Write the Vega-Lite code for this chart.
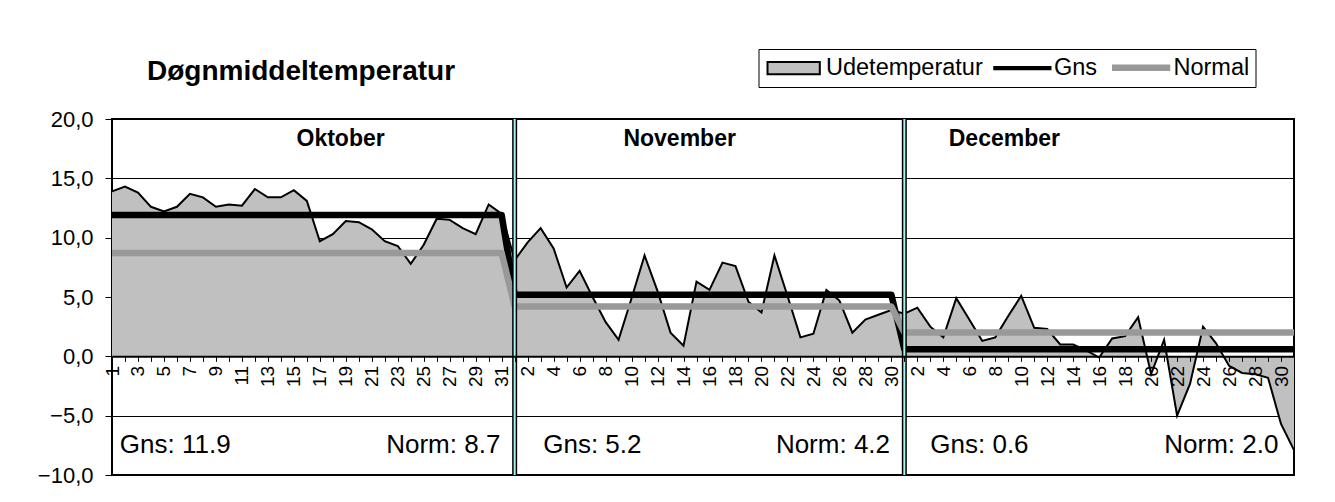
{
  "$schema": "https://vega.github.io/schema/vega-lite/v6.json",
  "width": 1182,
  "height": 356,
  "autosize": {"type": "none"},
  "padding": {"left": 112, "top": 119, "right": 41, "bottom": 27},
  "background": "white",
  "config": {
    "font": "Liberation Sans",
    "view": {"stroke": "black", "strokeWidth": 2},
    "axis": {"labelFont": "Liberation Sans", "labelColor": "black", "tickColor": "black", "domainColor": "black"},
    "legend": {
      "title": null,
      "orient": "none",
      "legendX": 646.5,
      "legendY": -70,
      "direction": "horizontal",
      "strokeColor": "black",
      "fillColor": "white",
      "padding": 6,
      "labelFont": "Liberation Sans",
      "labelFontSize": 23.5,
      "labelColor": "black",
      "labelLimit": 0,
      "labelOffset": 38,
      "columnPadding": 1,
      "symbolSize": 324,
      "symbolOpacity": 1
    }
  },
  "title": {
    "text": "Døgnmiddeltemperatur",
    "anchor": "start",
    "frame": "group",
    "fontSize": 28,
    "fontWeight": "bold",
    "font": "Liberation Sans",
    "color": "black",
    "dx": 35,
    "dy": 37,
    "offset": 0
  },
  "datasets": {
    "dage": [
      {"i":0,"t":13.9,"g":11.9,"n":8.7},{"i":1,"t":14.3,"g":11.9,"n":8.7},{"i":2,"t":13.8,"g":11.9,"n":8.7},{"i":3,"t":12.6,"g":11.9,"n":8.7},{"i":4,"t":12.2,"g":11.9,"n":8.7},{"i":5,"t":12.6,"g":11.9,"n":8.7},{"i":6,"t":13.7,"g":11.9,"n":8.7},{"i":7,"t":13.4,"g":11.9,"n":8.7},{"i":8,"t":12.6,"g":11.9,"n":8.7},{"i":9,"t":12.8,"g":11.9,"n":8.7},
      {"i":10,"t":12.7,"g":11.9,"n":8.7},{"i":11,"t":14.1,"g":11.9,"n":8.7},{"i":12,"t":13.4,"g":11.9,"n":8.7},{"i":13,"t":13.4,"g":11.9,"n":8.7},{"i":14,"t":14.0,"g":11.9,"n":8.7},{"i":15,"t":13.1,"g":11.9,"n":8.7},{"i":16,"t":9.7,"g":11.9,"n":8.7},{"i":17,"t":10.3,"g":11.9,"n":8.7},{"i":18,"t":11.4,"g":11.9,"n":8.7},{"i":19,"t":11.3,"g":11.9,"n":8.7},
      {"i":20,"t":10.7,"g":11.9,"n":8.7},{"i":21,"t":9.7,"g":11.9,"n":8.7},{"i":22,"t":9.3,"g":11.9,"n":8.7},{"i":23,"t":7.8,"g":11.9,"n":8.7},{"i":24,"t":9.4,"g":11.9,"n":8.7},{"i":25,"t":11.6,"g":11.9,"n":8.7},{"i":26,"t":11.5,"g":11.9,"n":8.7},{"i":27,"t":10.8,"g":11.9,"n":8.7},{"i":28,"t":10.3,"g":11.9,"n":8.7},{"i":29,"t":12.8,"g":11.9,"n":8.7},
      {"i":30,"t":12.0,"g":11.9,"n":8.7},
      {"i":31,"t":8.1,"g":5.2,"n":4.2},{"i":32,"t":9.6,"g":5.2,"n":4.2},{"i":33,"t":10.8,"g":5.2,"n":4.2},{"i":34,"t":9.1,"g":5.2,"n":4.2},{"i":35,"t":5.8,"g":5.2,"n":4.2},{"i":36,"t":7.2,"g":5.2,"n":4.2},{"i":37,"t":5.0,"g":5.2,"n":4.2},{"i":38,"t":2.9,"g":5.2,"n":4.2},{"i":39,"t":1.4,"g":5.2,"n":4.2},{"i":40,"t":4.9,"g":5.2,"n":4.2},
      {"i":41,"t":8.5,"g":5.2,"n":4.2},{"i":42,"t":5.5,"g":5.2,"n":4.2},{"i":43,"t":2.0,"g":5.2,"n":4.2},{"i":44,"t":0.9,"g":5.2,"n":4.2},{"i":45,"t":6.3,"g":5.2,"n":4.2},{"i":46,"t":5.6,"g":5.2,"n":4.2},{"i":47,"t":7.9,"g":5.2,"n":4.2},{"i":48,"t":7.6,"g":5.2,"n":4.2},{"i":49,"t":4.6,"g":5.2,"n":4.2},{"i":50,"t":3.7,"g":5.2,"n":4.2},
      {"i":51,"t":8.5,"g":5.2,"n":4.2},{"i":52,"t":5.1,"g":5.2,"n":4.2},{"i":53,"t":1.6,"g":5.2,"n":4.2},{"i":54,"t":1.9,"g":5.2,"n":4.2},{"i":55,"t":5.6,"g":5.2,"n":4.2},{"i":56,"t":4.7,"g":5.2,"n":4.2},{"i":57,"t":2.0,"g":5.2,"n":4.2},{"i":58,"t":3.1,"g":5.2,"n":4.2},{"i":59,"t":3.5,"g":5.2,"n":4.2},{"i":60,"t":3.9,"g":5.2,"n":4.2},
      {"i":61,"t":3.6,"g":0.6,"n":2.0},{"i":62,"t":4.1,"g":0.6,"n":2.0},{"i":63,"t":2.5,"g":0.6,"n":2.0},{"i":64,"t":1.6,"g":0.6,"n":2.0},{"i":65,"t":4.9,"g":0.6,"n":2.0},{"i":66,"t":3.1,"g":0.6,"n":2.0},{"i":67,"t":1.3,"g":0.6,"n":2.0},{"i":68,"t":1.6,"g":0.6,"n":2.0},{"i":69,"t":3.4,"g":0.6,"n":2.0},{"i":70,"t":5.1,"g":0.6,"n":2.0},
      {"i":71,"t":2.4,"g":0.6,"n":2.0},{"i":72,"t":2.3,"g":0.6,"n":2.0},{"i":73,"t":1.0,"g":0.6,"n":2.0},{"i":74,"t":1.0,"g":0.6,"n":2.0},{"i":75,"t":0.5,"g":0.6,"n":2.0},{"i":76,"t":-0.1,"g":0.6,"n":2.0},{"i":77,"t":1.5,"g":0.6,"n":2.0},{"i":78,"t":1.7,"g":0.6,"n":2.0},{"i":79,"t":3.3,"g":0.6,"n":2.0},{"i":80,"t":-1.5,"g":0.6,"n":2.0},
      {"i":81,"t":1.4,"g":0.6,"n":2.0},{"i":82,"t":-5.0,"g":0.6,"n":2.0},{"i":83,"t":-2.3,"g":0.6,"n":2.0},{"i":84,"t":2.5,"g":0.6,"n":2.0},{"i":85,"t":1.1,"g":0.6,"n":2.0},{"i":86,"t":-0.8,"g":0.6,"n":2.0},{"i":87,"t":-1.4,"g":0.6,"n":2.0},{"i":88,"t":-1.5,"g":0.6,"n":2.0},{"i":89,"t":-1.8,"g":0.6,"n":2.0},{"i":90,"t":-5.7,"g":0.6,"n":2.0},
      {"i":91,"t":-7.9,"g":0.6,"n":2.0}
    ],
    "serier": [{"serie":"Udetemperatur"},{"serie":"Gns"},{"serie":"Normal"}],
    "skift": [{"i":31},{"i":61}],
    "navne": [
      {"navn":"Oktober","x":17.6,"y":18.3},
      {"navn":"November","x":43.7,"y":18.3},
      {"navn":"December","x":68.7,"y":18.3}
    ],
    "noter": [
      {"tekst":"Gns: 11.9","x":0.6,"y":-7.45,"side":"v"},
      {"tekst":"Norm: 8.7","x":29.9,"y":-7.45,"side":"h"},
      {"tekst":"Gns: 5.2","x":33.2,"y":-7.45,"side":"v"},
      {"tekst":"Norm: 4.2","x":59.9,"y":-7.45,"side":"h"},
      {"tekst":"Gns: 0.6","x":63.0,"y":-7.45,"side":"v"},
      {"tekst":"Norm: 2.0","x":89.8,"y":-7.45,"side":"h"}
    ]
  },
  "layer": [
    {
      "data": {"name": "dage"},
      "mark": {"type": "area", "color": "#c0c0c0", "opacity": 1},
      "encoding": {
        "x": {
          "field": "i", "type": "quantitative",
          "scale": {"domain": [0, 91], "nice": false, "zero": false},
          "axis": {
            "title": null,
            "values": [0,1,2,3,4,5,6,7,8,9,10,11,12,13,14,15,16,17,18,19,20,21,22,23,24,25,26,27,28,29,30,31,32,33,34,35,36,37,38,39,40,41,42,43,44,45,46,47,48,49,50,51,52,53,54,55,56,57,58,59,60,61,62,63,64,65,66,67,68,69,70,71,72,73,74,75,76,77,78,79,80,81,82,83,84,85,86,87,88,89,90,91],
            "tickCount": 200,
            "labelExpr": "datum.value % 2 == 0 ? (datum.value < 31 ? datum.value + 1 : (datum.value < 61 ? datum.value - 30 : datum.value - 60)) : ''",
            "labelAngle": 270,
            "labelFontSize": 19,
            "labelPadding": 4,
            "labelOverlap": false,
            "labelFlush": false,
            "labelBound": false,
            "tickSize": 5,
            "tickWidth": 1,
            "domainWidth": 2,
            "grid": false,
            "offset": -118.67,
            "zindex": 1
          }
        },
        "y": {
          "field": "t", "type": "quantitative",
          "scale": {"domain": [-10, 20], "nice": false},
          "axis": {
            "title": null,
            "values": [-10,-5,0,5,10,15,20],
            "tickCount": 20,
            "labelExpr": "replace(format(datum.value, '.1f'), '.', ',')",
            "labelFontSize": 22,
            "labelPadding": 12,
            "tickSize": 7,
            "domain": false,
            "grid": true,
            "gridColor": "black",
            "gridWidth": 1
          }
        }
      }
    },
    {
      "data": {"name": "dage"},
      "mark": {"type": "line", "color": "black", "strokeWidth": 2, "strokeJoin": "miter"},
      "encoding": {
        "x": {"field": "i", "type": "quantitative"},
        "y": {"field": "t", "type": "quantitative"}
      }
    },
    {
      "data": {"name": "dage"},
      "mark": {"type": "line", "color": "#000000", "strokeWidth": 6.5, "strokeJoin": "round"},
      "encoding": {
        "x": {"field": "i", "type": "quantitative"},
        "y": {"field": "g", "type": "quantitative"}
      }
    },
    {
      "data": {"name": "dage"},
      "mark": {"type": "line", "color": "#999999", "strokeWidth": 6.5, "strokeJoin": "round"},
      "encoding": {
        "x": {"field": "i", "type": "quantitative"},
        "y": {"field": "n", "type": "quantitative"}
      }
    },
    {
      "data": {"name": "skift"},
      "mark": {"type": "rule", "color": "black", "strokeWidth": 5},
      "encoding": {"x": {"field": "i", "type": "quantitative"}}
    },
    {
      "data": {"name": "skift"},
      "mark": {"type": "rule", "color": "#a8f6f6", "strokeWidth": 2},
      "encoding": {"x": {"field": "i", "type": "quantitative"}}
    },
    {
      "data": {"name": "navne"},
      "mark": {"type": "text", "fontSize": 23, "fontWeight": "bold", "font": "Liberation Sans", "color": "black", "align": "center", "baseline": "middle"},
      "encoding": {
        "x": {"field": "x", "type": "quantitative"},
        "y": {"field": "y", "type": "quantitative"},
        "text": {"field": "navn"}
      }
    },
    {
      "data": {"name": "noter"},
      "transform": [{"filter": "datum.side === 'v'"}],
      "mark": {"type": "text", "fontSize": 26, "font": "Liberation Sans", "color": "black", "align": "left", "baseline": "middle"},
      "encoding": {
        "x": {"field": "x", "type": "quantitative"},
        "y": {"field": "y", "type": "quantitative"},
        "text": {"field": "tekst"}
      }
    },
    {
      "data": {"name": "noter"},
      "transform": [{"filter": "datum.side === 'h'"}],
      "mark": {"type": "text", "fontSize": 26, "font": "Liberation Sans", "color": "black", "align": "right", "baseline": "middle"},
      "encoding": {
        "x": {"field": "x", "type": "quantitative"},
        "y": {"field": "y", "type": "quantitative"},
        "text": {"field": "tekst"}
      }
    },
    {
      "data": {"name": "serier"},
      "mark": {"type": "point", "opacity": 0, "filled": true},
      "encoding": {
        "x": {"datum": 0, "type": "quantitative"},
        "y": {"datum": 0, "type": "quantitative"},
        "shape": {
          "field": "serie", "type": "nominal",
          "scale": {"domain": ["Udetemperatur", "Gns", "Normal"], "range": ["M-0.97,-0.667H4.84V0.667H-0.97Z", "M-1.22,0H5.25", "M-1.22,0H5.25"]},
          "legend": {"title": null}
        },
        "fill": {
          "field": "serie", "type": "nominal",
          "scale": {"domain": ["Udetemperatur", "Gns", "Normal"], "range": ["#c0c0c0", "transparent", "transparent"]},
          "legend": {"title": null}
        },
        "stroke": {
          "field": "serie", "type": "nominal",
          "scale": {"domain": ["Udetemperatur", "Gns", "Normal"], "range": ["#000000", "#000000", "#999999"]},
          "legend": {"title": null}
        },
        "strokeWidth": {
          "field": "serie", "type": "ordinal",
          "scale": {"domain": ["Udetemperatur", "Gns", "Normal"], "range": [2, 6.5, 6.5]},
          "legend": {"title": null}
        }
      }
    }
  ]
}
